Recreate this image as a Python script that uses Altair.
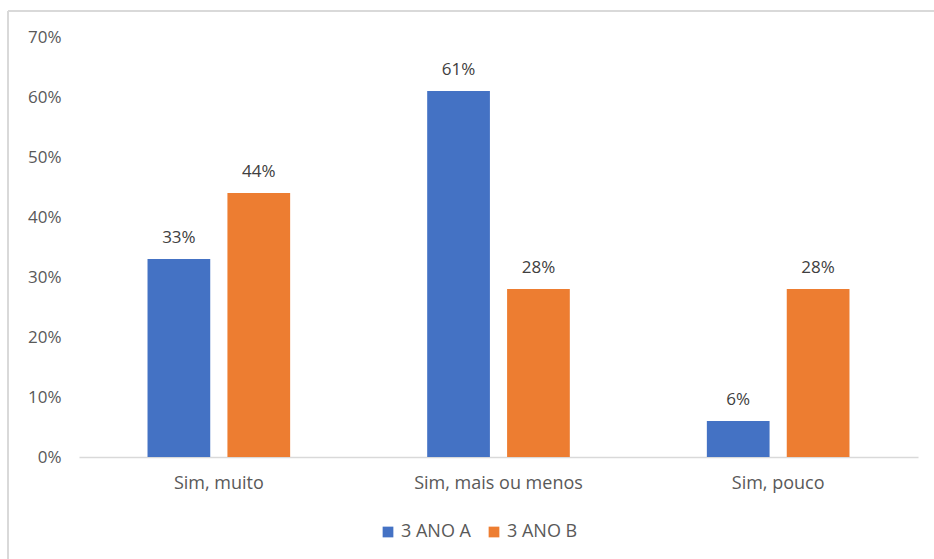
import altair as alt
import pandas as pd

categories = ["Sim, muito", "Sim, mais ou menos", "Sim, pouco"]
series = ["3 ANO A", "3 ANO B"]
values_a = [0.33, 0.61, 0.06]
values_b = [0.44, 0.28, 0.28]
colors = ["#4472C4", "#ED7D31"]

rows = []
for c, a, b in zip(categories, values_a, values_b):
    rows.append({"cat": c, "serie": series[0], "val": a})
    rows.append({"cat": c, "serie": series[1], "val": b})
df = pd.DataFrame(rows)

FONT = "Open Sans"
GRAY = "#595959"
FS = 18

x = alt.X("cat:N", sort=categories, title=None,
          scale=alt.Scale(paddingInner=0.49, paddingOuter=0.245),
          axis=alt.Axis(labelAngle=0, labelFont=FONT, labelFontSize=FS, labelColor=GRAY,
                        labelPadding=17, ticks=False, domainColor="#D9D9D9", domainWidth=1.5))
xo = alt.XOffset("serie:N", sort=series, scale=alt.Scale(paddingInner=0.215))
y = alt.Y("val:Q", title=None,
          scale=alt.Scale(domain=[0, 0.7]),
          axis=alt.Axis(format=".0%", values=[0, 0.1, 0.2, 0.3, 0.4, 0.5, 0.6, 0.7],
                        labelFont=FONT, labelFontSize=FS - 1, labelColor=GRAY, labelPadding=18,
                        ticks=False, domain=False, grid=False))
color = alt.Color("serie:N", sort=series, title=None,
                  scale=alt.Scale(domain=series, range=colors),
                  legend=alt.Legend(orient="none", legendX=300, legendY=486, direction="horizontal",
                                    symbolType="square", symbolSize=115, symbolStrokeWidth=0,
                                    labelFont=FONT, labelFontSize=FS, labelColor=GRAY,
                                    columnPadding=14, labelOffset=4))

base = alt.Chart(df)
bars = base.mark_bar().encode(x=x, xOffset=xo, y=y, color=color)
labels = base.mark_text(dy=-12, baseline="bottom", font=FONT, fontSize=FS - 1, color="#404040").encode(
    x=x, xOffset=xo, y=y, text=alt.Text("val:Q", format=".0%"))

border_top = alt.Chart(df).mark_rule(color="#D9D9D9", strokeWidth=1.5).encode(
    x=alt.value(-71), x2=alt.value(870), y=alt.value(-26))
border_left = alt.Chart(df).mark_rule(color="#D9D9D9", strokeWidth=1.5).encode(
    x=alt.value(-71), y=alt.value(-26), y2=alt.value(530))

chart = alt.layer(bars, labels, border_top, border_left).properties(
    width=839, height=420,
    autosize=alt.AutoSizeParams(type="none"),
    padding={"left": 79, "top": 37, "right": 16, "bottom": 102},
    background="white",
).configure_view(stroke=None)

chart.save("out.html", embed_options={"renderer": "svg", "actions": False})
